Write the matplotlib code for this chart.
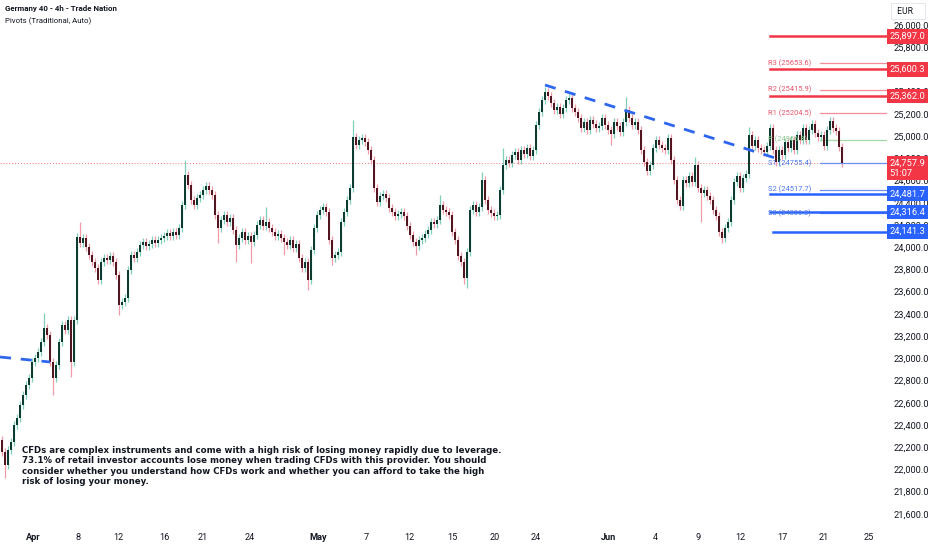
import matplotlib
matplotlib.use("Agg")
import matplotlib.pyplot as plt
import matplotlib.transforms as mtransforms
import numpy as np

plt.rcParams["font.family"] = ["Roboto", "DejaVu Sans"]

# 4h closes, Germany 40 (Apr - Jun)
first_open = 22265
closes = [
    22157, 22040, 22175, 22247, 22400, 22463, 22580, 22670, 22760, 22823,
    22967, 23003, 23057, 23147, 23273, 23210, 22967, 22823, 22940, 23147,
    23300, 23255, 23345, 22967, 23345, 24092, 24038, 24083, 24002, 23930,
    23867, 23813, 23705, 23867, 23903, 23885, 23921, 23867, 23750, 23480,
    23507, 23543, 23795, 23930, 23903, 23957, 24020, 24047, 24011, 24029,
    24065, 24038, 24065, 24083, 24101, 24128, 24101, 24137, 24110, 24173,
    24380, 24650, 24560, 24425, 24380, 24443, 24470, 24515, 24551, 24515,
    24470, 24290, 24173, 24245, 24290, 24227, 24263, 24155, 24020, 24083,
    24137, 24065, 24101, 24047, 24110, 24200, 24245, 24191, 24227, 24173,
    24137, 24101, 24119, 24083, 24047, 24020, 24065, 23993, 24029, 23903,
    23813, 23867, 23705, 23975, 24173, 24290, 24335, 24362, 24317, 24065,
    23903, 23930, 23957, 24227, 24317, 24425, 24533, 24992, 24920, 24965,
    24983, 24947, 24875, 24785, 24533, 24407, 24461, 24479, 24443, 24353,
    24317, 24281, 24299, 24317, 24281, 24191, 24110, 24047, 24011, 24065,
    24083, 24119, 24155, 24227, 24209, 24245, 24380, 24335, 24317, 24290,
    24137, 24065, 23921, 23867, 23723, 23957, 24335, 24380, 24317, 24362,
    24605, 24425, 24335, 24308, 24281, 24290, 24515, 24740, 24785, 24758,
    24830, 24857, 24785, 24875, 24839, 24893, 24821, 24875, 25100, 25217,
    25325, 25397, 25361, 25298, 25235, 25262, 25199, 25253, 25325, 25343,
    25253, 25217, 25163, 25073, 25127, 25055, 25145, 25109, 25073, 25091,
    25163, 25100, 25055, 25019, 25127, 25091, 25037, 25127, 25235, 25163,
    25100, 25127, 25055, 24875, 24767, 24686, 24740, 24893, 24965, 24920,
    24893, 24875, 24983, 24785, 24605, 24425, 24371, 24605, 24578, 24641,
    24587, 24740, 24533, 24488, 24515, 24461, 24425, 24335, 24281, 24137,
    24083, 24173, 24227, 24425, 24587, 24641, 24533, 24623, 24659, 25010,
    24911, 24965, 24893, 24875, 24857, 24911, 25073, 24875, 24767, 24875,
    24830, 24947, 24893, 24965, 24875, 25010, 24965, 25073, 24965, 25055,
    25109, 25028, 24992, 25010, 24911, 25055, 25136, 25073, 25046, 24902,
    24757.9,
]
# wick lengths in points (typical, plus the long ones seen on the chart)
wick_typ = 35
hi_wick = {14: 135, 26: 135, 61: 135, 68: 36, 88: 135, 117: 153, 146: 90,
           160: 72, 167: 153, 181: 45, 208: 117, 231: 72, 249: 72, 276: 36}
lo_wick = {1: 117, 17: 153, 23: 135, 32: 36, 39: 90, 72: 135, 78: 153,
           83: 189, 94: 120, 102: 90, 110: 63, 138: 81, 154: 54, 155: 90,
           203: 99, 226: 36, 233: 261, 240: 45, 258: 36}

date_labels = ["Apr", "8", "12", "16", "21", "24", "May", "7", "12", "15",
               "20", "24", "Jun", "4", "9", "12", "17", "21", "25"]
date_bars = [10.3, 25.3, 38.7, 54.3, 67, 82.7, 105.3, 121.3, 135.7, 150,
             164.3, 178, 202.3, 217.7, 232, 246.3, 260.3, 274, 289]

pivot_names = ["R3", "R2", "R1", "P", "S1", "S2", "S3"]
pivot_values = [25653.6, 25415.9, 25204.5, 24966.8, 24755.4, 24517.7, 24306.3]
red_levels = [25897.0, 25600.3, 25362.0]
blue_levels = [24481.7, 24316.4, 24141.3]
last_price = 24757.9
countdown = "51:07"

disclaimer = ("CFDs are complex instruments and come with a high risk of losing money rapidly due to leverage.\n"
              "73.1% of retail investor accounts lose money when trading CFDs with this provider. You should\n"
              "consider whether you understand how CFDs work and whether you can afford to take the high\n"
              "risk of losing your money.")

closes = np.array(closes, dtype=float)
opens = np.concatenate([[first_open], closes[:-1]])
n = len(closes)
idx = np.arange(n)
highs = np.array([max(opens[i], closes[i]) + hi_wick.get(i, wick_typ) for i in range(n)])
lows = np.array([min(opens[i], closes[i]) - lo_wick.get(i, wick_typ) for i in range(n)])
up = closes >= opens

fig = plt.figure(figsize=(9.32, 5.5), dpi=100)
ax = fig.add_axes([0, 20 / 550, 887 / 932, 530 / 550])
ax.set_xlim(-0.67, 295)
ax.set_ylim(21455, 26225)

up_body, up_wick = "#0e3b30", "#7fcfb9"
dn_body, dn_wick = "#51161f", "#f09aa8"

ax.vlines(idx[up], lows[up], highs[up], color=up_wick, lw=0.9, zorder=2)
ax.vlines(idx[~up], lows[~up], highs[~up], color=dn_wick, lw=0.9, zorder=2)
body_h = np.maximum(np.abs(closes - opens), 6)
ax.bar(idx[up], body_h[up], bottom=np.minimum(opens, closes)[up], width=0.8,
       color=up_body, zorder=3)
ax.bar(idx[~up], body_h[~up], bottom=np.minimum(opens, closes)[~up], width=0.8,
       color=dn_body, zorder=3)

# current price dotted line
ax.axhline(last_price, color="#f23645", lw=0.7, ls=(0, (1, 2)), alpha=0.7, zorder=1)

# trend lines
ax.plot([181, 257.7], [25460, 24803], color="#2f66f0", lw=2, ls=(0, (4, 3.5)), zorder=4)
ax.plot([-0.67, 16], [23012, 22967], color="#2f66f0", lw=2, ls=(0, (4, 3.5)), zorder=4)

# pivots
piv_colors = {"R": ("#f58c9b", "#e8546b"), "P": ("#a3d9a5", "#8cc98e"), "S": ("#6b8ff2", "#4a76e8")}
for name, val in zip(pivot_names, pivot_values):
    lc, tc = piv_colors[name[0]]
    ax.plot([272.7, 295], [val, val], color=lc, lw=0.9, zorder=2)
    ax.text(255.3, val, f"{name} ({val:.1f})", color=tc, fontsize=5.4,
            va="center", ha="left", zorder=5)

# horizontal levels
for lvl in red_levels:
    ax.plot([256, 295], [lvl, lvl], color="#f23645", lw=1.8, zorder=4)
for k, lvl in enumerate(blue_levels):
    ax.plot([257 if k == 2 else 256, 295], [lvl, lvl], color="#2962ff", lw=1.8, zorder=4)

# right price scale
ax.yaxis.tick_right()
ticks = np.arange(21600, 26001, 200)
ax.set_yticks(ticks)
ax.set_yticklabels([f"{t:,.1f}" for t in ticks])
ax.tick_params(axis="y", length=0, pad=5, labelsize=6.7, colors="#131722")
ax.set_xticks(date_bars)
ax.set_xticklabels(date_labels)
ax.tick_params(axis="x", length=0, pad=2, labelsize=6.6, colors="#131722")
for lab in ax.get_xticklabels():
    if lab.get_text() in ("Apr", "May", "Jun"):
        lab.set_fontweight("bold")
for s in ax.spines.values():
    s.set_visible(False)

trans = mtransforms.blended_transform_factory(ax.transAxes, ax.transData)
for lvl, fc in [(v, "#f23645") for v in red_levels] + [(v, "#2962ff") for v in blue_levels]:
    ax.text(1.003, lvl, f"{lvl:,.1f}", transform=trans, color="white", fontsize=6.7,
            va="center", ha="left", clip_on=False, zorder=10,
            bbox=dict(boxstyle="square,pad=0.3", fc=fc, ec="none"))
ax.text(1.003, last_price - 45, f"{last_price:,.1f}\n{countdown}", transform=trans,
        color="white", fontsize=6.7, va="center", ha="left", clip_on=False, zorder=10,
        linespacing=1.15, bbox=dict(boxstyle="square,pad=0.3", fc="#f23645", ec="none"))

fig.text(895 / 932, 1 - 11 / 550, " EUR    ", fontsize=6.2, va="center", ha="left", color="#131722",
         bbox=dict(boxstyle="square,pad=0.45", fc="white", ec="#e0e3eb", lw=0.6))

fig.text(5 / 932, 1 - 9 / 550, "Germany 40 - 4h - Trade Nation", fontsize=5.7,
         fontweight="bold", va="center", ha="left", color="#131722")
fig.text(5 / 932, 1 - 21 / 550, "Pivots (Traditional, Auto)", fontsize=5.7,
         va="center", ha="left", color="#131722")
fig.text(22 / 932, 1 - 446 / 550, disclaimer, fontsize=6.25, fontweight="bold",
         family="DejaVu Sans", va="top", ha="left", color="#131722", linespacing=1.2)

fig.savefig("out.png", dpi=100)
